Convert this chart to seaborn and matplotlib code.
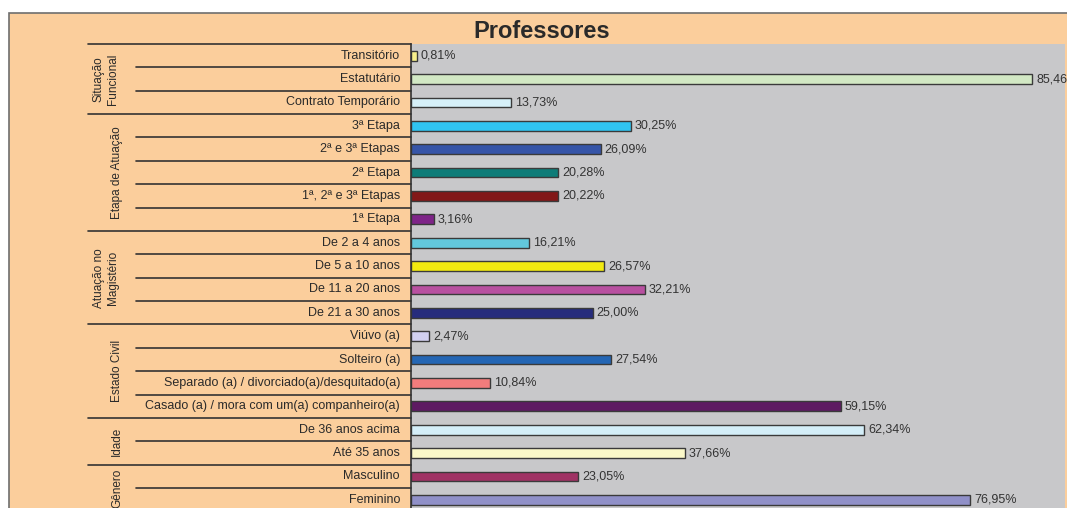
import matplotlib
matplotlib.use("Agg")
import matplotlib.pyplot as plt
import matplotlib.transforms as mtransforms
from matplotlib.patches import Rectangle
import seaborn as sns
import pandas as pd

# dados
categorias = [
    "Transitório", "Estatutário", "Contrato Temporário",
    "3ª Etapa", "2ª e 3ª Etapas", "2ª Etapa", "1ª, 2ª e 3ª Etapas", "1ª Etapa",
    "De 2 a 4 anos", "De 5 a 10 anos", "De 11 a 20 anos", "De 21 a 30 anos",
    "Viúvo (a)", "Solteiro (a)", "Separado (a) / divorciado(a)/desquitado(a)",
    "Casado (a) / mora com um(a) companheiro(a)",
    "De 36 anos acima", "Até 35 anos",
    "Masculino", "Feminino",
]
valores = [0.81, 85.46, 13.73,
           30.25, 26.09, 20.28, 20.22, 3.16,
           16.21, 26.57, 32.21, 25.00,
           2.47, 27.54, 10.84, 59.15,
           62.34, 37.66,
           23.05, 76.95]
cores = ["#F8F08C", "#D2E8C4", "#D6F0F8",
         "#30C4F0", "#3655A8", "#0E7C78", "#821818", "#7E2488",
         "#62C8DC", "#F2EA10", "#B850A0", "#262C7C",
         "#D2D0F0", "#2466B4", "#F27C7C", "#5E1A62",
         "#D4EEF8", "#FAF8C8",
         "#A03264", "#9090C8"]
grupos = ["Situação\nFuncional", "Etapa de Atuação", "Atuação no\nMagistério",
          "Estado Civil", "Idade", "Gênero"]
tamanhos_grupos = [3, 5, 4, 4, 2, 2]

df = pd.DataFrame({"categoria": categorias, "valor": valores})

W, H = 1067, 508
fig = plt.figure(figsize=(W / 100, H / 100), dpi=100, facecolor="white")
sns.set_style("white")
plt.rcParams["font.family"] = ["Liberation Sans", "DejaVu Sans"]

# painel laranja de fundo
fig.patches.append(Rectangle((9 / W, -0.05), 1.1, (H - 13) / H + 0.05, transform=fig.transFigure,
                             facecolor="#FBCE9C", edgecolor="#6E6E6E", linewidth=1.2, zorder=-1))

top, bottom = 44, 511.5
ax = fig.add_axes([411 / W, (H - bottom) / H, (1065 - 411) / W, (bottom - top) / H])
ax.set_zorder(1)
ax.set_facecolor("#C8C8CA")

sns.barplot(data=df, y="categoria", x="valor", hue="categoria", palette=cores, saturation=1,
            orient="h", width=0.42, edgecolor="#3A3A3A", linewidth=1, legend=False, ax=ax)

ax.set_xlim(0, 90)
ax.set_ylim(len(categorias) - 0.5, -0.5)
ax.set_xlabel("")
ax.set_ylabel("")
ax.set_xticks([])
ax.set_yticks([])
for s in ["top", "right", "bottom"]:
    ax.spines[s].set_visible(False)
ax.spines["left"].set_color("#333333")
ax.spines["left"].set_linewidth(1.2)

for i, v in enumerate(valores):
    ax.text(v + 0.55, i, f"{v:.2f}%".replace(".", ","), va="center", ha="left",
            fontsize=9, color="#333333", clip_on=False)

# tabela de rotulos a esquerda
trans = mtransforms.blended_transform_factory(fig.transFigure, ax.transData)
for i, c in enumerate(categorias):
    fig.text(400 / W, i, c, transform=trans, ha="right", va="center", fontsize=9, color="#2A2A2A")

inicio = 0
for g, n in zip(grupos, tamanhos_grupos):
    fig.add_artist(plt.Line2D([88 / W, 411 / W], [inicio - 0.5, inicio - 0.5], transform=trans,
                              color="#333333", linewidth=1.2))
    for k in range(1, n):
        y = inicio + k - 0.5
        fig.add_artist(plt.Line2D([136 / W, 411 / W], [y, y], transform=trans,
                                  color="#333333", linewidth=1.2))
    xg = 106 if "\n" in g else 117
    fig.text(xg / W, inicio + (n - 1) / 2, g, transform=trans, rotation=90, ha="center",
             va="center", fontsize=8.5, color="#2A2A2A", linespacing=1.25)
    inicio += n

fig.text(542 / W, (H - 31) / H, "Professores", ha="center", va="center",
         fontsize=17, fontweight="bold", color="#2A2A2A")

fig.savefig("out.png", dpi=100)
